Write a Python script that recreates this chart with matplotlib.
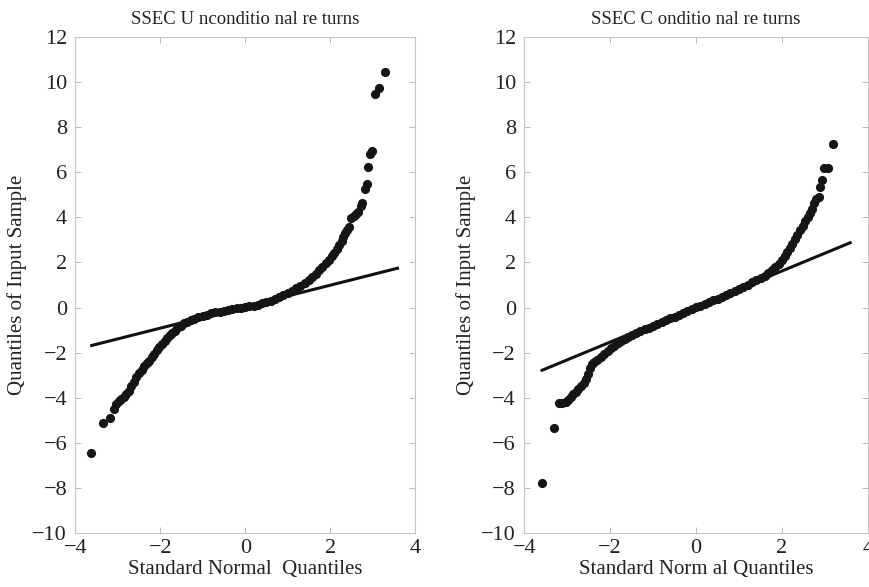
import matplotlib
matplotlib.use("Agg")
import matplotlib.pyplot as plt

plt.rcParams['font.family'] = ['Liberation Serif', 'DejaVu Serif']
plt.rcParams['axes.unicode_minus'] = True

# Unconditional returns: standard normal quantiles vs. sample quantiles
unc_x = [-3.62, -3.35, -3.19, -3.10, -3.04, -2.98, -2.92, -2.86, -2.80, -2.74,
         -2.68, -2.62, -2.56, -2.50, -2.44, -2.38, -2.32, -2.26, -2.20, -2.14,
         -2.08, -2.02, -1.96, -1.90, -1.84, -1.78, -1.72, -1.66, -1.60, -1.52,
         -1.44, -1.36, -1.28, -1.20, -1.10, -1.00, -0.90, -0.80, -0.70, -0.60,
         -0.50, -0.40, -0.30, -0.20, -0.10, 0.00, 0.10, 0.20, 0.30, 0.40,
         0.50, 0.60, 0.70, 0.80, 0.90, 1.00, 1.10, 1.20, 1.30, 1.40,
         1.50, 1.58, 1.66, 1.74, 1.82, 1.90, 1.98, 2.04, 2.10, 2.16,
         2.22, 2.27, 2.31, 2.35, 2.40, 2.44, 2.50, 2.55, 2.60, 2.65,
         2.72, 2.76, 2.82, 2.86, 2.89, 2.94, 2.99, 3.05, 3.15, 3.30]
unc_y = [-6.45, -5.10, -4.88, -4.50, -4.30, -4.15, -4.05, -3.95, -3.85, -3.70,
         -3.50, -3.30, -3.10, -2.90, -2.75, -2.60, -2.48, -2.35, -2.20, -2.05,
         -1.90, -1.76, -1.62, -1.48, -1.36, -1.24, -1.12, -1.02, -0.92, -0.80,
         -0.70, -0.63, -0.57, -0.50, -0.43, -0.37, -0.31, -0.26, -0.22, -0.18,
         -0.14, -0.10, -0.07, -0.04, -0.01, 0.02, 0.05, 0.09, 0.13, 0.18,
         0.24, 0.30, 0.37, 0.46, 0.55, 0.65, 0.75, 0.86, 0.97, 1.10,
         1.22, 1.36, 1.50, 1.65, 1.80, 1.96, 2.12, 2.28, 2.44, 2.60,
         2.78, 2.95, 3.12, 3.30, 3.45, 3.55, 3.95, 4.05, 4.15, 4.25,
         4.50, 4.65, 5.25, 5.50, 6.25, 6.80, 6.95, 9.47, 9.72, 10.45]
unc_line_x = [-3.65, 3.62]
unc_line_y = [-1.70, 1.76]

# Conditional (standardised) returns
cond_x = [-3.59, -3.31, -3.20, -3.12, -3.04, -2.98, -2.92, -2.86, -2.80, -2.74,
          -2.68, -2.62, -2.56, -2.51, -2.47, -2.43, -2.37, -2.30, -2.22, -2.14,
          -2.06, -1.98, -1.90, -1.82, -1.74, -1.66, -1.58, -1.50, -1.40, -1.30,
          -1.20, -1.10, -1.00, -0.90, -0.80, -0.70, -0.60, -0.50, -0.40, -0.30,
          -0.20, -0.10, 0.00, 0.10, 0.20, 0.30, 0.40, 0.50, 0.60, 0.70,
          0.80, 0.90, 1.00, 1.10, 1.20, 1.30, 1.40, 1.50, 1.60, 1.68,
          1.76, 1.84, 1.92, 2.00, 2.06, 2.12, 2.18, 2.24, 2.30, 2.36,
          2.42, 2.48, 2.54, 2.60, 2.66, 2.71, 2.75, 2.80, 2.85, 2.89,
          2.92, 2.98, 3.06, 3.18]
cond_y = [-7.80, -5.35, -4.25, -4.22, -4.18, -4.10, -3.98, -3.85, -3.75, -3.62,
          -3.50, -3.35, -3.15, -2.95, -2.70, -2.52, -2.42, -2.32, -2.20, -2.07,
          -1.94, -1.81, -1.70, -1.59, -1.49, -1.40, -1.31, -1.23, -1.14, -1.06,
          -0.97, -0.89, -0.80, -0.72, -0.64, -0.56, -0.48, -0.40, -0.31, -0.23,
          -0.15, -0.07, 0.01, 0.09, 0.17, 0.24, 0.32, 0.40, 0.48, 0.56,
          0.64, 0.72, 0.81, 0.91, 1.01, 1.12, 1.23, 1.33, 1.42, 1.53,
          1.65, 1.79, 1.95, 2.12, 2.28, 2.45, 2.63, 2.82, 3.02, 3.22,
          3.42, 3.62, 3.82, 4.00, 4.18, 4.35, 4.62, 4.80, 4.90, 5.35,
          5.65, 6.18, 6.18, 7.27]
cond_line_x = [-3.62, 3.62]
cond_line_y = [-2.81, 2.90]

titles = ["SSEC U nconditio nal re turns", "SSEC C onditio nal re turns"]
xlabels = ["Standard Normal  Quantiles", "Standard Norm al Quantiles"]
ylabel = "Quantiles of Input Sample"
xticks = [-4, -2, 0, 2, 4]
yticks = [-10, -8, -6, -4, -2, 0, 2, 4, 6, 8, 10, 12]

fig = plt.figure(figsize=(8.7, 5.87), dpi=100)
rects = [[0.0866, 0.092, 0.3905, 0.845], [0.6026, 0.092, 0.395, 0.845]]
panels = [(unc_x, unc_y, unc_line_x, unc_line_y),
          (cond_x, cond_y, cond_line_x, cond_line_y)]

for rect, (px, py, lx, ly), title, xlabel in zip(rects, panels, titles, xlabels):
    ax = fig.add_axes(rect)
    ax.plot(lx, ly, color='#111111', lw=2.2, solid_capstyle='butt', zorder=2)
    ax.plot(px, py, 'o', color='#151515', markersize=6.6, markeredgewidth=0,
            zorder=3)
    ax.set_xlim(-4, 4)
    ax.set_ylim(-10, 12)
    ax.set_xticks(xticks)
    ax.set_yticks(yticks)
    ax.set_xticklabels([f"{t:g}".replace('-', '\u2212') for t in xticks])
    ax.set_yticklabels([f"{t:g}".replace('-', '\u2212') for t in yticks])
    ax.tick_params(direction='in', length=4, width=0.6, color='#b0b0b0',
                   top=True, right=True, labelsize=16, labelcolor='#222222')
    ax.tick_params(axis='y', pad=6)
    ax.tick_params(axis='x', pad=4)
    for sp in ax.spines.values():
        sp.set_color('#c4c4c4')
        sp.set_linewidth(0.8)
    ax.set_title(title, fontsize=13.5, color='#222222', pad=9)
    ax.set_xlabel(xlabel, fontsize=15, color='#222222', labelpad=2)
    ax.set_ylabel(ylabel, fontsize=15, color='#222222', labelpad=4)

fig.savefig("out.png", dpi=100, facecolor='white')
